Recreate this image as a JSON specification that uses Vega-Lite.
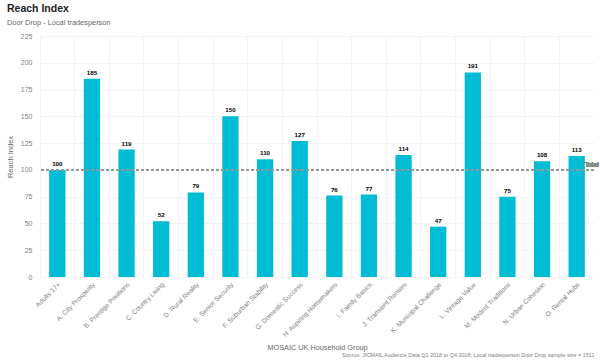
{
  "$schema": "https://vega.github.io/schema/vega-lite/v6.json",
  "autosize": {"type": "none"},
  "width": 554,
  "height": 241,
  "padding": {"left": 40, "top": 36, "right": 6, "bottom": 83},
  "background": "white",
  "config": {
    "font": "Liberation Sans",
    "view": {"stroke": null},
    "axis": {"gridColor": "#ececec", "gridWidth": 0.6, "labelColor": "#808080", "titleColor": "#666666", "titleFontWeight": "normal"}
  },
  "title": {
    "text": "Reach Index",
    "subtitle": "Door Drop - Local tradesperson",
    "anchor": "start",
    "frame": "group",
    "dx": -33,
    "offset": 6,
    "fontSize": 10.5,
    "fontWeight": "bold",
    "color": "#222222",
    "subtitleFontSize": 7.4,
    "subtitleColor": "#666666",
    "subtitlePadding": 4
  },
  "data": {
    "values": [
      {"Group": "Adults 17+", "Index": 100},
      {"Group": "A. City Prosperity", "Index": 185},
      {"Group": "B. Prestige Positions", "Index": 119},
      {"Group": "C. Country Living", "Index": 52},
      {"Group": "D. Rural Reality", "Index": 79},
      {"Group": "E. Senior Security", "Index": 150},
      {"Group": "F. Suburban Stability", "Index": 110},
      {"Group": "G. Domestic Success", "Index": 127},
      {"Group": "H. Aspiring Homemakers", "Index": 76},
      {"Group": "I. Family Basics", "Index": 77},
      {"Group": "J. Transient Renters", "Index": 114},
      {"Group": "K. Municipal Challenge", "Index": 47},
      {"Group": "L. Vintage Value", "Index": 191},
      {"Group": "M. Modest Traditions", "Index": 75},
      {"Group": "N. Urban Cohesion", "Index": 108},
      {"Group": "O. Rental Hubs", "Index": 113}
    ]
  },
  "resolve": {"axis": {"x": "independent"}},
  "layer": [
    {
      "mark": {"type": "bar", "color": "#00BCD4", "width": {"band": 0.47}},
      "encoding": {
        "x": {
          "field": "Group", "type": "nominal", "sort": null,
          "scale": {"paddingInner": 0, "paddingOuter": 0},
          "axis": {
            "title": "MOSAIC UK Household Group",
            "titleFontSize": 7.3,
            "titleY": 72,
            "titleBaseline": "alphabetic",
            "bandPosition": 0,
            "labelAngle": -45,
            "labelAlign": "right",
            "labelBaseline": "top",
            "labelFontSize": 6.7,
            "labelPadding": 4,
            "ticks": false,
            "domain": false,
            "grid": true
          }
        },
        "y": {
          "field": "Index", "type": "quantitative",
          "scale": {"domain": [0, 225], "nice": false},
          "axis": {
            "title": "Reach Index",
            "titleFontSize": 7.5,
            "values": [0, 25, 50, 75, 100, 125, 150, 175, 200, 225],
            "labelFontSize": 7,
            "labelPadding": 8,
            "ticks": false,
            "domain": false,
            "titlePadding": 6
          }
        }
      }
    },
    {
      "mark": {"type": "text", "fontWeight": "bold", "fontSize": 6.2, "color": "#000000", "baseline": "alphabetic", "dy": -4},
      "encoding": {
        "x": {
          "field": "Group", "type": "nominal", "sort": null,
          "axis": {
            "orient": "bottom",
            "title": "Source: JICMAIL Audience Data Q1 2018 to Q4 2018; Local tradesperson Door Drop sample size = 1511",
            "titleFontSize": 5.45,
            "titleColor": "#808080",
            "titleAnchor": "end",
            "titleAlign": "right",
            "titleY": 79,
            "titleBaseline": "alphabetic",
            "labels": false,
            "ticks": false,
            "domain": false,
            "grid": false
          }
        },
        "y": {
          "field": "Index", "type": "quantitative",
          "axis": {
            "title": "Reach Index",
            "titleFontSize": 7.5,
            "values": [0, 25, 50, 75, 100, 125, 150, 175, 200, 225],
            "labelFontSize": 7,
            "labelPadding": 8,
            "ticks": false,
            "domain": false,
            "titlePadding": 6
          }
        },
        "text": {"field": "Index", "type": "quantitative"}
      }
    },
    {
      "mark": {"type": "rule", "strokeDash": [3, 2], "color": "#9a9a9a", "strokeWidth": 0.7},
      "encoding": {
        "y": {
          "datum": 100, "type": "quantitative",
          "axis": {
            "title": "Reach Index",
            "titleFontSize": 7.5,
            "values": [0, 25, 50, 75, 100, 125, 150, 175, 200, 225],
            "labelFontSize": 7,
            "labelPadding": 8,
            "ticks": false,
            "domain": false,
            "titlePadding": 6
          }
        }
      }
    },
    {
      "mark": {"type": "text", "text": "Total", "align": "left", "baseline": "middle", "fontSize": 6.5, "color": "#888888", "dx": 8, "dy": -5},
      "encoding": {
        "x": {"datum": "O. Rental Hubs", "type": "nominal", "axis": null},
        "y": {
          "datum": 100, "type": "quantitative",
          "axis": {
            "title": "Reach Index",
            "titleFontSize": 7.5,
            "values": [0, 25, 50, 75, 100, 125, 150, 175, 200, 225],
            "labelFontSize": 7,
            "labelPadding": 8,
            "ticks": false,
            "domain": false,
            "titlePadding": 6
          }
        }
      }
    }
  ]
}
